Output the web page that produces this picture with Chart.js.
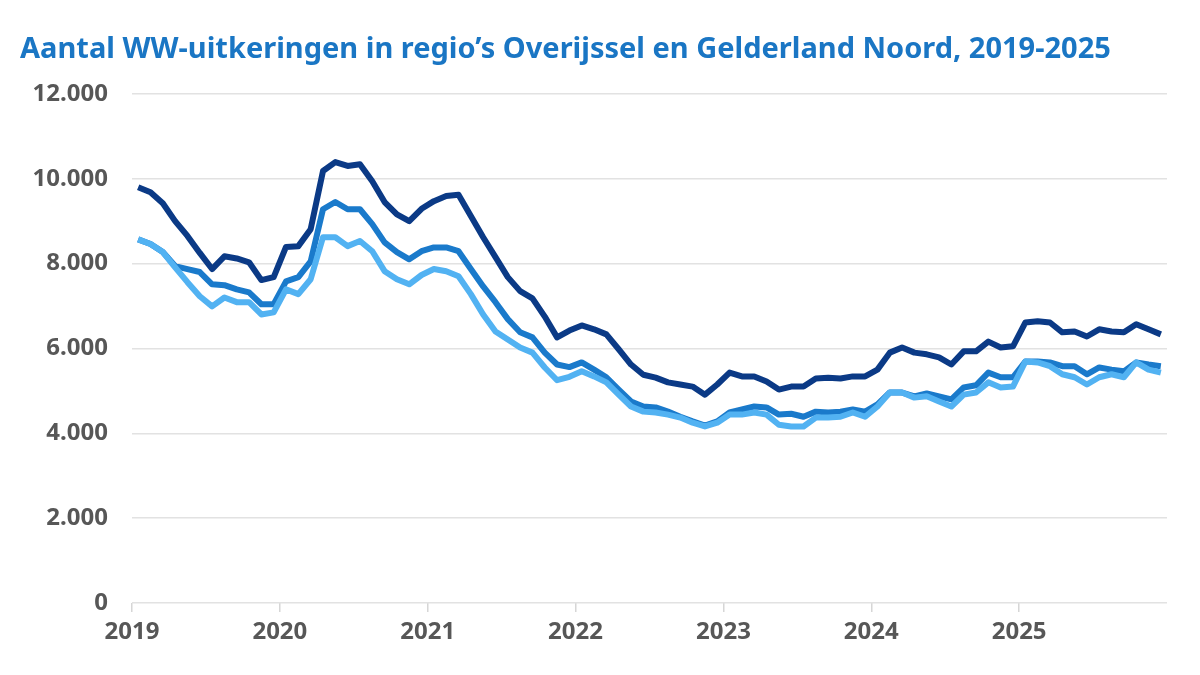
<!DOCTYPE html>
<html>
<head>
<meta charset="utf-8">
<script src="https://cdn.jsdelivr.net/npm/chart.js@4.4.1/dist/chart.umd.min.js"></script>
<style>
  html, body { margin: 0; padding: 0; background: #ffffff; }
  #wrap { width: 1200px; height: 675px; }
</style>
</head>
<body>
<div id="wrap"><canvas id="c" width="1200" height="675"></canvas></div>
<script>
// ---- Data (monthly, Jan 2019 – Dec 2025) ----
const titleText = 'Aantal WW-uitkeringen in regio’s Overijssel en Gelderland Noord, 2019-2025';
const years = ['2019', '2020', '2021', '2022', '2023', '2024', '2025'];
const yTicks = [0, 2000, 4000, 6000, 8000, 10000, 12000];

const seriesDark = [
  9800, 9680, 9420, 9000, 8650, 8250, 7870, 8170, 8120, 8030, 7610, 7680,
  8390, 8410, 8810, 10180, 10390, 10300, 10340, 9940, 9450, 9160, 9000, 9290,
  9470, 9590, 9620, 9120, 8620, 8150, 7680, 7350, 7180, 6750, 6260, 6420,
  6540, 6450, 6330, 5980, 5620, 5380, 5310, 5200, 5150, 5100, 4910, 5150,
  5430, 5340, 5340, 5220, 5030, 5100, 5100, 5290, 5310, 5290, 5340, 5340,
  5500, 5900, 6020, 5900, 5860, 5790, 5620, 5930, 5930, 6160, 6020, 6050,
  6610, 6640, 6610, 6380, 6400, 6280, 6450, 6400, 6380, 6570, 6450, 6330
];
const seriesMedium = [
  8570, 8460, 8270, 7940, 7870, 7800, 7510, 7490, 7390, 7320, 7040, 7040,
  7580, 7680, 8050, 9280, 9450, 9280, 9280, 8930, 8500, 8270, 8100, 8290,
  8380, 8380, 8290, 7870, 7460, 7090, 6690, 6380, 6260, 5900, 5620, 5560,
  5670, 5500, 5320, 5030, 4750, 4630, 4610, 4510, 4390, 4280, 4180, 4280,
  4490, 4560, 4630, 4610, 4440, 4460, 4390, 4510, 4490, 4510, 4560, 4510,
  4680, 4960, 4960, 4870, 4940, 4870, 4800, 5080, 5130, 5430, 5320, 5320,
  5690, 5690, 5670, 5580, 5580, 5390, 5550, 5500, 5460, 5670, 5620, 5580
];
const seriesLight = [
  8570, 8460, 8270, 7910, 7560, 7230, 6990, 7200, 7090, 7090, 6800, 6850,
  7390, 7280, 7630, 8620, 8620, 8410, 8530, 8290, 7820, 7630, 7510, 7730,
  7870, 7820, 7700, 7280, 6800, 6400, 6210, 6020, 5900, 5550, 5250, 5330,
  5460, 5340, 5200, 4910, 4630, 4510, 4490, 4440, 4370, 4250, 4160, 4250,
  4440, 4440, 4490, 4440, 4200, 4160, 4160, 4370, 4370, 4390, 4490, 4390,
  4630, 4960, 4960, 4840, 4870, 4750, 4630, 4910, 4960, 5200, 5080, 5100,
  5690, 5670, 5580, 5390, 5320, 5150, 5320, 5390, 5320, 5670, 5500, 5430
];

const colDark = '#0b3a86';
const colMedium = '#1a7acb';
const colLight = '#52b2f2';
const textGrey = '#575757';

function fmtNL(v) {
  return String(v).replace(/\B(?=(\d{3})+(?!\d))/g, '.');
}
function toPoints(arr) {
  return arr.map((v, i) => ({ x: i + 0.5, y: v }));
}
function lineDs(label, arr, color) {
  return {
    label: label,
    data: toPoints(arr),
    borderColor: color,
    backgroundColor: color,
    borderWidth: 6,
    pointRadius: 0,
    pointHoverRadius: 0,
    tension: 0,
    fill: false,
    borderJoinStyle: 'round',
    borderCapStyle: 'butt'
  };
}

new Chart(document.getElementById('c'), {
  type: 'line',
  data: {
    datasets: [
      lineDs('Reeks 1', seriesDark, colDark),
      lineDs('Reeks 3', seriesLight, colLight),
      lineDs('Reeks 2', seriesMedium, colMedium)
    ]
  },
  options: {
    responsive: false,
    animation: false,
    devicePixelRatio: 1,
    layout: { padding: { left: 20, right: 33, top: 0, bottom: 22 } },
    plugins: {
      legend: { display: false },
      tooltip: { enabled: false },
      title: {
        display: true,
        text: titleText,
        align: 'start',
        color: '#1a76c4',
        font: { family: 'Noto Sans', size: 29, weight: 'bold', lineHeight: 1.2 },
        padding: { top: 32, bottom: 27 }
      }
    },
    scales: {
      x: {
        type: 'linear',
        min: 0,
        max: 84,
        afterBuildTicks: (scale) => {
          scale.ticks = years.map((y, i) => ({ value: i * 12 }));
        },
        afterFit: (scale) => { scale.height = 50; },
        ticks: {
          autoSkip: false,
          maxRotation: 0,
          padding: 6,
          color: textGrey,
          font: { family: 'Noto Sans', size: 24, weight: 'bold' },
          callback: (value) => years[Math.round(value / 12)] || ''
        },
        grid: {
          drawOnChartArea: false,
          drawTicks: true,
          tickLength: 9,
          color: '#d6d6d6',
          lineWidth: 1.5
        },
        border: { display: false }
      },
      y: {
        min: 0,
        max: 12000,
        afterBuildTicks: (scale) => {
          scale.ticks = yTicks.map(v => ({ value: v }));
        },
        afterFit: (scale) => { scale.width = 112; },
        ticks: {
          padding: 24,
          color: textGrey,
          font: { family: 'Noto Sans', size: 24, weight: 'bold' },
          callback: (value) => fmtNL(value)
        },
        grid: {
          drawTicks: false,
          color: '#e2e2e2',
          lineWidth: 1.5
        },
        border: { display: false }
      }
    }
  }
});
</script>
</body>
</html>
